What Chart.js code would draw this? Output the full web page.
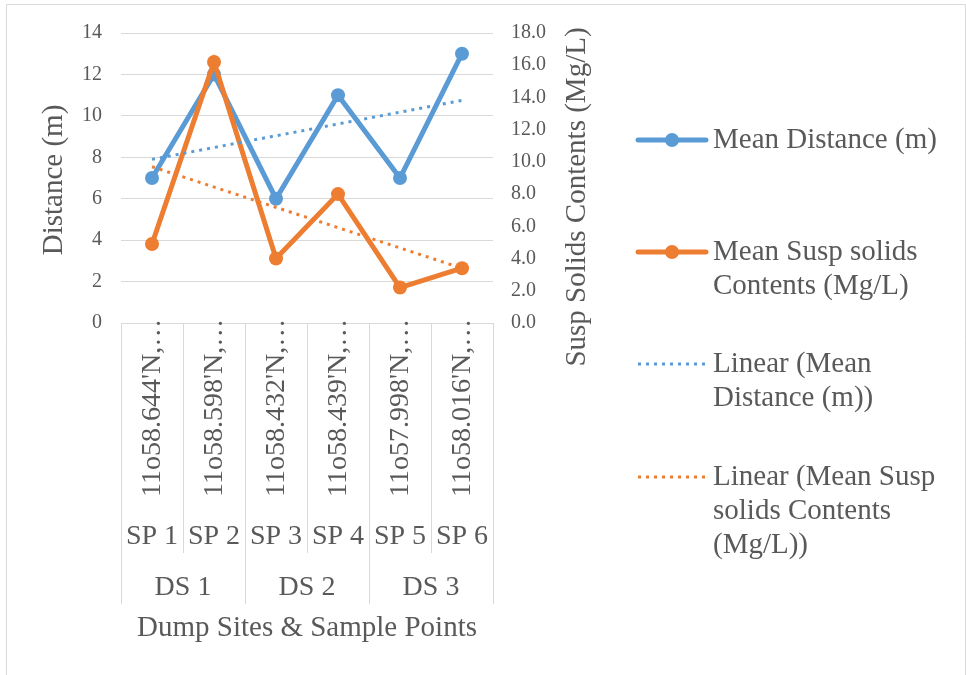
<!DOCTYPE html>
<html>
<head>
<meta charset="utf-8">
<script src="https://cdn.jsdelivr.net/npm/chart.js@4"></script>
<style>
  html, body { margin: 0; padding: 0; background: #fff; }
  #wrap { width: 966px; height: 675px; position: relative; }
</style>
</head>
<body>
<div id="wrap"><canvas id="grafico"></canvas></div>
<script>
// Datos
const coordenadas = ["11o58.644'N,…", "11o58.598'N,…", "11o58.432'N,…", "11o58.439'N,…", "11o57.998'N,…", "11o58.016'N,…"];
const puntos = ["SP 1", "SP 2", "SP 3", "SP 4", "SP 5", "SP 6"];
const sitios = ["DS 1", "DS 2", "DS 3"];
const distancia = [7, 12, 6, 11, 7, 13];
const solidos = [4.9, 16.2, 4.0, 8.0, 2.2, 3.4];
// tendencias lineales: solo extremos
const tendDistancia = [7.9, null, null, null, null, 10.75];
const tendSolidos = [9.7, null, null, null, null, 3.4];

const AZUL = '#5b9bd5';
const NARANJA = '#ed7d31';
const GRIS = '#595959';
const LINEA = '#d9d9d9';
const FUENTE = "'Liberation Serif', 'Times New Roman', serif";

// Plugin para dibujar el eje de categorias multinivel, titulos y leyenda
const extras = {
    id: 'extras',
    afterDraw(chart) {
        const ctx = chart.ctx;
        const x = chart.scales.x;
        const area = chart.chartArea;
        const ancho = x.getPixelForValue(1) - x.getPixelForValue(0);
        ctx.save();

        // borde exterior
        ctx.strokeStyle = LINEA;
        ctx.lineWidth = 1;
        ctx.beginPath();
        ctx.moveTo(6.5, 700);
        ctx.lineTo(6.5, 4.5);
        ctx.lineTo(965.5, 4.5);
        ctx.lineTo(965.5, 700);
        ctx.stroke();

        // separadores verticales
        for (let i = 0; i <= puntos.length; i++) {
            const px = Math.round(x.getPixelForValue(0) - ancho / 2 + i * ancho) + 0.5;
            const fin = (i % 2 === 0) ? 604 : 553;
            ctx.beginPath();
            ctx.moveTo(px, area.bottom);
            ctx.lineTo(px, fin);
            ctx.stroke();
        }

        ctx.fillStyle = GRIS;

        // etiquetas rotadas
        ctx.font = '28px ' + FUENTE;
        coordenadas.forEach((c, i) => {
            ctx.save();
            ctx.translate(x.getPixelForValue(i), 497);
            ctx.rotate(-Math.PI / 2);
            ctx.textAlign = 'left';
            ctx.textBaseline = 'middle';
            ctx.fillText(c, 0, 1);
            ctx.restore();
        });

        // puntos de muestreo
        ctx.textAlign = 'center';
        ctx.textBaseline = 'middle';
        puntos.forEach((p, i) => {
            ctx.fillText(p, x.getPixelForValue(i), 537);
        });

        // sitios
        sitios.forEach((s, i) => {
            const cx = (x.getPixelForValue(i * 2) + x.getPixelForValue(i * 2 + 1)) / 2;
            ctx.fillText(s, cx, 588);
        });

        // titulos de ejes
        ctx.font = '29px ' + FUENTE;
        ctx.fillText('Dump Sites & Sample Points', (area.left + area.right) / 2, 628);

        ctx.save();
        ctx.translate(54, 180);
        ctx.rotate(-Math.PI / 2);
        ctx.fillText('Distance (m)', 0, 0);
        ctx.restore();

        ctx.save();
        ctx.translate(577, 197);
        ctx.rotate(-Math.PI / 2);
        ctx.fillText('Susp Solids Contents (Mg/L)', 0, 0);
        ctx.restore();

        // leyenda
        const filasY = [140, 252, 364, 477];
        ctx.textAlign = 'left';
        chart.data.datasets.forEach((ds, i) => {
            const y = filasY[i];
            ctx.save();
            ctx.strokeStyle = ds.borderColor;
            ctx.lineWidth = ds.borderDash ? 3 : 5;
            ctx.lineCap = ds.borderDash ? 'butt' : 'round';
            ctx.setLineDash(ds.borderDash || []);
            ctx.beginPath();
            ctx.moveTo(638, y);
            ctx.lineTo(706, y);
            ctx.stroke();
            if (!ds.borderDash) {
                ctx.fillStyle = ds.borderColor;
                ctx.beginPath();
                ctx.arc(672, y, 7, 0, Math.PI * 2);
                ctx.fill();
            }
            ctx.restore();

            const palabras = ds.label.split(' ');
            const lineas = [];
            let actual = '';
            palabras.forEach(w => {
                const prueba = actual ? actual + ' ' + w : w;
                if (ctx.measureText(prueba).width > 235 && actual) {
                    lineas.push(actual);
                    actual = w;
                } else {
                    actual = prueba;
                }
            });
            lineas.push(actual);
            lineas.forEach((l, k) => ctx.fillText(l, 713, y + k * 34));
        });

        ctx.restore();
    }
};

new Chart(document.getElementById('grafico'), {
    type: 'line',
    data: {
        labels: puntos,
        datasets: [{
            label: 'Mean Distance (m)',
            data: distancia,
            yAxisID: 'y',
            borderColor: AZUL,
            backgroundColor: AZUL,
            borderWidth: 5,
            pointRadius: 7,
            pointBorderWidth: 0,
            tension: 0,
            order: 4
        }, {
            label: 'Mean Susp solids Contents (Mg/L)',
            data: solidos,
            yAxisID: 'y1',
            borderColor: NARANJA,
            backgroundColor: NARANJA,
            borderWidth: 5,
            pointRadius: 7,
            pointBorderWidth: 0,
            tension: 0,
            order: 3
        }, {
            label: 'Linear (Mean Distance (m))',
            data: tendDistancia,
            yAxisID: 'y',
            borderColor: AZUL,
            borderWidth: 3,
            borderDash: [3, 5],
            pointRadius: 0,
            spanGaps: true,
            order: 2
        }, {
            label: 'Linear (Mean Susp solids Contents (Mg/L))',
            data: tendSolidos,
            yAxisID: 'y1',
            borderColor: NARANJA,
            borderWidth: 3,
            borderDash: [3, 5],
            pointRadius: 0,
            spanGaps: true,
            order: 1
        }]
    },
    options: {
        responsive: true,
        maintainAspectRatio: false,
        animation: false,
        layout: { padding: { left: 0, top: 33, right: 373, bottom: 352 } },
        plugins: {
            legend: { display: false },
            tooltip: { enabled: false }
        },
        scales: {
            x: {
                type: 'category',
                offset: true,
                display: false
            },
            y: {
                position: 'left',
                min: 0,
                max: 14,
                ticks: {
                    stepSize: 2,
                    padding: 19,
                    color: GRIS,
                    font: { family: FUENTE, size: 20 }
                },
                grid: { color: LINEA, lineWidth: 1, drawTicks: false },
                border: { display: false },
                afterFit: (s) => { s.width = 121; }
            },
            y1: {
                position: 'right',
                min: 0,
                max: 18,
                ticks: {
                    stepSize: 2,
                    padding: 18,
                    color: GRIS,
                    font: { family: FUENTE, size: 20 },
                    callback: (v) => Number(v).toFixed(1)
                },
                grid: { display: false, drawTicks: false },
                border: { display: false },
                afterFit: (s) => { s.width = 100; }
            }
        }
    },
    plugins: [extras]
});
</script>
</body>
</html>
